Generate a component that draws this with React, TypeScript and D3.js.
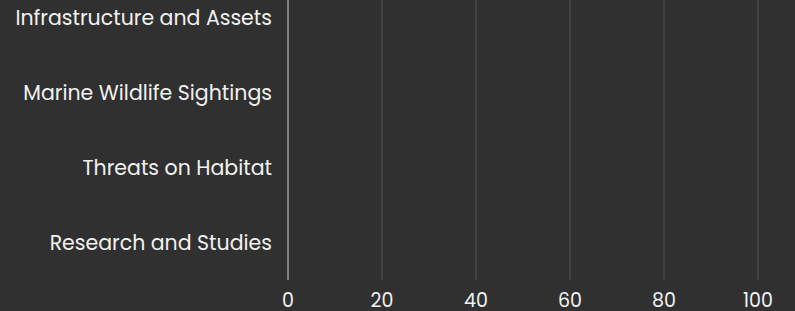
import { useEffect, useRef } from 'react'
import * as d3 from 'd3'

const categories = [
  'Infrastructure and Assets',
  'Marine Wildlife Sightings',
  'Threats on Habitat',
  'Research and Studies',
]
const counts = [0, 0, 0, 0]
const xTicks = [0, 20, 40, 60, 80, 100]

export default function App() {
  const svgRef = useRef<SVGSVGElement>(null)

  useEffect(() => {
    if (!svgRef.current) return
    document.body.style.margin = '0'

    const width = 795
    const height = 311
    const margin = { top: -19.5, right: 37, bottom: 31, left: 288 }

    const svg = d3.select(svgRef.current)
    svg.selectAll('*').remove()

    svg.append('rect')
      .attr('width', width)
      .attr('height', height)
      .attr('fill', '#303030')

    const x = d3.scaleLinear()
      .domain([0, 100])
      .range([margin.left, width - margin.right])

    const y = d3.scaleBand()
      .domain(categories)
      .range([margin.top, height - margin.bottom])
      .paddingInner(0.2)
      .paddingOuter(0.1)

    const font = 'Poppins, Inter, sans-serif'

    // vertical grid
    svg.append('g')
      .selectAll('line')
      .data(xTicks)
      .join('line')
      .attr('x1', d => x(d))
      .attr('x2', d => x(d))
      .attr('y1', 0)
      .attr('y2', height - margin.bottom)
      .attr('stroke', d => d === 0 ? '#cfcfcf' : '#555')
      .attr('stroke-width', 1)

    // bars (all zero)
    svg.append('g')
      .selectAll('rect')
      .data(categories)
      .join('rect')
      .attr('x', x(0))
      .attr('y', d => y(d)!)
      .attr('width', (_, i) => x(counts[i]) - x(0))
      .attr('height', y.bandwidth())
      .attr('fill', '#4aa3df')

    svg.append('g')
      .selectAll('text')
      .data(categories)
      .join('text')
      .attr('x', x(0) - 16)
      .attr('y', d => y(d)! + y.bandwidth() / 2)
      .attr('dy', '0.35em')
      .attr('text-anchor', 'end')
      .attr('fill', '#f2f2f2')
      .attr('font-family', font)
      .attr('font-size', '20.5px')
      .text(d => d)

    svg.append('g')
      .selectAll('text')
      .data(xTicks)
      .join('text')
      .attr('x', d => x(d))
      .attr('y', 307)
      .attr('text-anchor', 'middle')
      .attr('fill', '#f2f2f2')
      .attr('font-family', font)
      .attr('font-size', '19px')
      .text(d => d)
  }, [])

  return (
    <svg ref={svgRef} width={795} height={311} style={{ display: 'block' }} />
  )
}
